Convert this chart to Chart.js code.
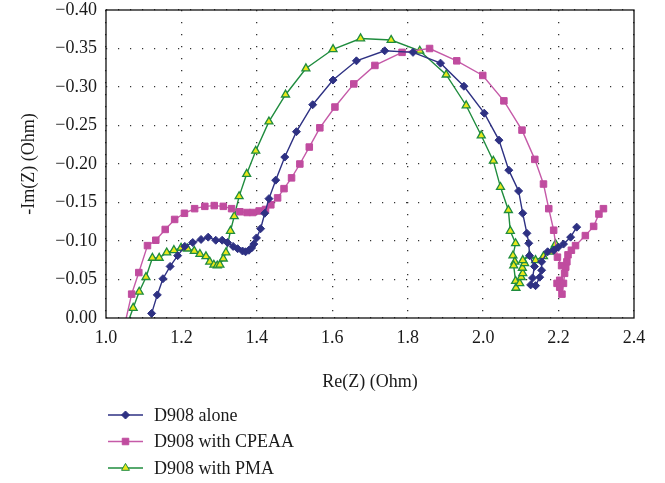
<!DOCTYPE html>
<html>
<head>
<meta charset="utf-8">
<style>
  html, body { margin: 0; padding: 0; background: #fff; }
</style>
<script src="https://cdn.jsdelivr.net/npm/chart.js"></script>
</head>
<body>
<canvas id="nyquist" width="665" height="483"></canvas>
<script>
// Re(Z) / -Im(Z) in Ohm
var aloneRe = [1.121,1.136,1.151,1.170,1.190,1.209,1.230,1.252,1.271,1.291,1.308,1.322,1.337,1.349,1.362,1.370,1.379,1.386,1.392,1.399,1.410,1.421,1.432,1.450,1.474,1.505,1.548,1.602,1.664,1.739,1.814,1.887,1.949,2.003,2.042,2.068,2.094,2.105,2.116,2.121,2.123,2.136,2.131,2.126,2.139,2.150,2.155,2.155,2.171,2.187,2.199,2.213,2.232,2.248];
var aloneIm = [0.006,0.030,0.051,0.067,0.081,0.093,0.098,0.102,0.105,0.101,0.101,0.098,0.093,0.090,0.087,0.086,0.088,0.091,0.096,0.104,0.116,0.136,0.155,0.179,0.209,0.242,0.277,0.309,0.334,0.347,0.345,0.331,0.301,0.266,0.231,0.192,0.165,0.136,0.110,0.097,0.081,0.067,0.052,0.043,0.042,0.053,0.062,0.073,0.086,0.088,0.092,0.096,0.105,0.118];

var cpeaaRe = [1.049,1.068,1.087,1.110,1.132,1.157,1.182,1.208,1.235,1.262,1.287,1.311,1.333,1.355,1.374,1.389,1.406,1.423,1.437,1.455,1.472,1.492,1.514,1.539,1.567,1.607,1.657,1.713,1.785,1.858,1.930,1.999,2.055,2.103,2.137,2.160,2.174,2.187,2.197,2.208,2.216,2.203,2.196,2.203,2.209,2.213,2.219,2.222,2.225,2.234,2.245,2.271,2.293,2.307,2.319];
var cpeaaIm = [-0.010,0.031,0.059,0.094,0.101,0.115,0.128,0.136,0.142,0.145,0.146,0.145,0.142,0.138,0.137,0.137,0.139,0.141,0.147,0.156,0.168,0.182,0.200,0.222,0.247,0.274,0.304,0.328,0.345,0.350,0.334,0.315,0.282,0.244,0.206,0.174,0.142,0.114,0.079,0.068,0.058,0.049,0.045,0.040,0.031,0.045,0.066,0.073,0.082,0.088,0.094,0.107,0.119,0.135,0.142];

var pmaRe = [1.055,1.072,1.088,1.106,1.123,1.141,1.161,1.180,1.199,1.216,1.234,1.249,1.265,1.275,1.286,1.295,1.302,1.311,1.318,1.330,1.340,1.353,1.373,1.397,1.432,1.476,1.530,1.602,1.675,1.756,1.832,1.902,1.955,1.995,2.027,2.046,2.067,2.072,2.086,2.079,2.084,2.081,2.086,2.087,2.097,2.101,2.105,2.104,2.110,2.105,2.123,2.139,2.160,2.181,2.192];
var pmaIm = [-0.010,0.013,0.034,0.053,0.078,0.078,0.085,0.088,0.091,0.090,0.087,0.083,0.080,0.073,0.069,0.068,0.069,0.077,0.085,0.113,0.132,0.158,0.187,0.217,0.255,0.290,0.324,0.349,0.363,0.361,0.347,0.316,0.276,0.237,0.204,0.170,0.140,0.113,0.097,0.081,0.073,0.068,0.048,0.039,0.045,0.053,0.058,0.065,0.071,0.075,0.081,0.075,0.080,0.086,0.096];

var seriesNames = ['D908 alone', 'D908 with CPEAA', 'D908 with PMA'];

function pts(re, im) {
  return re.map(function (x, i) { return { x: x, y: im[i] }; });
}

var serif = '"Liberation Serif", "Times New Roman", serif';

// legend drawn as a column under the plot, plus the box round the plot area
var boxAndLegend = {
  id: 'boxAndLegend',
  afterDraw: function (chart) {
    var ctx = chart.ctx;
    var a = chart.chartArea;
    ctx.save();
    ctx.strokeStyle = '#111';
    ctx.lineWidth = 1.3;
    ctx.strokeRect(a.left, a.top, a.right - a.left, a.bottom - a.top);

    chart.data.datasets.forEach(function (ds, i) {
      var y = 415 + i * 26.5;
      ctx.strokeStyle = ds.borderColor;
      ctx.lineWidth = ds.borderWidth;
      ctx.beginPath();
      ctx.moveTo(108, y);
      ctx.lineTo(143, y);
      ctx.stroke();
      ctx.fillStyle = ds.pointBackgroundColor;
      ctx.strokeStyle = ds.pointBorderColor;
      ctx.lineWidth = 1;
      Chart.helpers.drawPoint(ctx, {
        pointStyle: ds.pointStyle, radius: ds.pointRadius, rotation: 0, borderWidth: 1
      }, 125.5, y);
      ctx.fillStyle = '#1a1a1a';
      ctx.font = '18px ' + serif;
      ctx.textBaseline = 'middle';
      ctx.textAlign = 'left';
      ctx.fillText(ds.label, 154, y + 1);
    });
    ctx.restore();
  }
};

var dotted = { display: false, dash: [1.2, 10.8] };

new Chart(document.getElementById('nyquist'), {
  type: 'line',
  data: {
    datasets: [{
      label: seriesNames[0],
      data: pts(aloneRe, aloneIm),
      borderColor: '#2e3183',
      borderWidth: 1.4,
      pointStyle: 'rectRot',
      pointRadius: 4,
      pointBackgroundColor: '#2e3183',
      pointBorderColor: '#2e3183',
      pointBorderWidth: 1
    }, {
      label: seriesNames[1],
      data: pts(cpeaaRe, cpeaaIm),
      borderColor: '#c55aa8',
      borderWidth: 1.4,
      pointStyle: 'rect',
      pointRadius: 4.6,
      pointBackgroundColor: '#c04c9f',
      pointBorderColor: '#c04c9f',
      pointBorderWidth: 1
    }, {
      label: seriesNames[2],
      data: pts(pmaRe, pmaIm),
      borderColor: '#1f8c3e',
      borderWidth: 1.4,
      pointStyle: 'triangle',
      pointRadius: 4.6,
      pointBackgroundColor: '#e9e81a',
      pointBorderColor: '#1f8c3e',
      pointBorderWidth: 1.3
    }]
  },
  options: {
    responsive: false,
    animation: false,
    layout: { padding: { left: 14, right: 31, top: 0, bottom: 90 } },
    plugins: {
      legend: { display: false },
      tooltip: { enabled: false }
    },
    elements: { line: { tension: 0 } },
    scales: {
      x: {
        type: 'linear',
        min: 1.0,
        max: 2.4,
        border: dotted,
        grid: { color: '#333', lineWidth: 1.3, drawTicks: false },
        ticks: {
          stepSize: 0.2,
          padding: 9,
          color: '#1a1a1a',
          font: { family: serif, size: 18 },
          callback: function (v) { return v.toFixed(1); }
        },
        title: {
          display: true,
          text: 'Re(Z) (Ohm)',
          color: '#1a1a1a',
          font: { family: serif, size: 18 },
          padding: { top: 6, bottom: 0 }
        },
        afterFit: function (s) { s.height = 75; }
      },
      y: {
        type: 'linear',
        min: 0,
        max: 0.4,
        border: dotted,
        grid: { color: '#333', lineWidth: 1.3, drawTicks: false },
        ticks: {
          stepSize: 0.05,
          padding: 9,
          color: '#1a1a1a',
          font: { family: serif, size: 18 },
          callback: function (v) { return v === 0 ? '0.00' : '\u2212' + v.toFixed(2); }
        },
        title: {
          display: true,
          text: '-Im(Z) (Ohm)',
          color: '#1a1a1a',
          font: { family: serif, size: 18 },
          padding: { top: 4, bottom: 4 }
        },
        afterFit: function (s) {
          s.width = 92;
          s.paddingTop = 10;
          s.paddingBottom = 0;
        }
      }
    }
  },
  plugins: [boxAndLegend]
});
</script>
</body>
</html>
